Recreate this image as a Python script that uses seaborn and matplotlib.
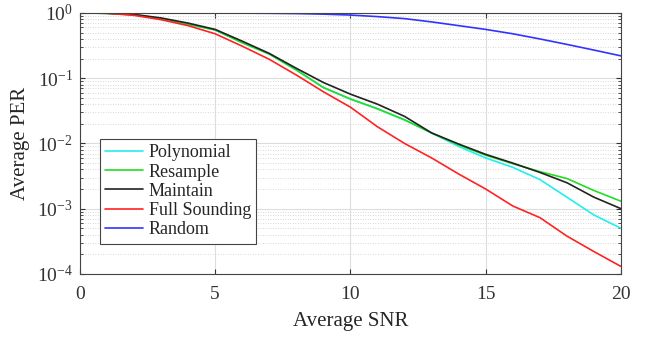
import pandas as pd
import numpy as np
import matplotlib
matplotlib.use("Agg")
import matplotlib.pyplot as plt
import seaborn as sns

snr = list(range(0, 21))

polynomial = [1, 0.99, 0.94, 0.82, 0.67, 0.55, 0.35, 0.235, 0.134, 0.072, 0.048,
              0.034, 0.023, 0.0145, 0.009, 0.006, 0.0043, 0.0028, 0.0015, 0.0008, 0.0005]
resample = [1, 0.99, 0.94, 0.82, 0.67, 0.55, 0.35, 0.235, 0.134, 0.072, 0.048,
            0.034, 0.023, 0.0145, 0.0095, 0.0066, 0.0049, 0.0037, 0.0029, 0.0019, 0.0013]
maintain = [1, 0.99, 0.95, 0.84, 0.70, 0.56, 0.37, 0.24, 0.142, 0.086, 0.057,
            0.040, 0.026, 0.0145, 0.0098, 0.0068, 0.005, 0.0036, 0.0025, 0.0015, 0.001]
full_sounding = [1, 0.99, 0.92, 0.79, 0.64, 0.48, 0.31, 0.195, 0.112, 0.062, 0.036,
                 0.018, 0.010, 0.0060, 0.0034, 0.002, 0.0011, 0.00073, 0.00038, 0.00022, 0.00013]
random_sel = [1, 1, 1, 1, 1, 1, 0.995, 0.99, 0.98, 0.96, 0.93,
              0.88, 0.82, 0.73, 0.64, 0.56, 0.48, 0.40, 0.33, 0.27, 0.22]

names = ["Polynomial", "Resample", "Maintain", "Full Sounding", "Random"]
colors = ["#22eeee", "#22dd22", "#222222", "#ff2222", "#3333ff"]

series = [polynomial, resample, maintain, full_sounding, random_sel]
df = pd.concat([pd.DataFrame({"snr": snr, "per": s, "method": n}) for n, s in zip(names, series)])

sns.set_style("ticks")
plt.rcParams["font.family"] = ["Liberation Serif", "DejaVu Serif"]
plt.rcParams["mathtext.fontset"] = "stix"

fig = plt.figure(figsize=(6.6, 3.42), dpi=100)
ax = fig.add_axes([0.121, 0.199, 0.82, 0.763])

sns.lineplot(data=df, x="snr", y="per", hue="method", palette=dict(zip(names, colors)),
             linewidth=1.2, ax=ax)

ax.set_yscale("log")
ax.set_xlim(0, 20)
ax.set_ylim(1e-4, 1)
ax.set_xticks([0, 5, 10, 15, 20])
ax.grid(True, which="major", color="#dddddd", linewidth=0.8)
ax.grid(True, which="minor", axis="y", color="#cccccc", linestyle=(0, (1, 2)), linewidth=0.6)
ax.set_axisbelow(True)
ax.tick_params(which="both", direction="in", top=True, right=True, labelsize=14, colors="#333333")
ax.tick_params(axis="x", pad=9)
ax.tick_params(axis="y", pad=5)
for sp in ax.spines.values():
    sp.set_color("#444444")
    sp.set_linewidth(0.8)

ax.set_xlabel("Average SNR", fontsize=15, labelpad=6)
ax.set_ylabel("Average PER", fontsize=15, labelpad=5)

leg = ax.legend(loc="upper left", bbox_to_anchor=(0.037, 0.517), fontsize=13, frameon=True,
                fancybox=False, edgecolor="#444444", framealpha=1, handlelength=2.1,
                labelspacing=0.12, borderpad=0.3, handletextpad=0.3, borderaxespad=0)
leg.get_frame().set_linewidth(0.8)

fig.savefig("out.png", dpi=100)
